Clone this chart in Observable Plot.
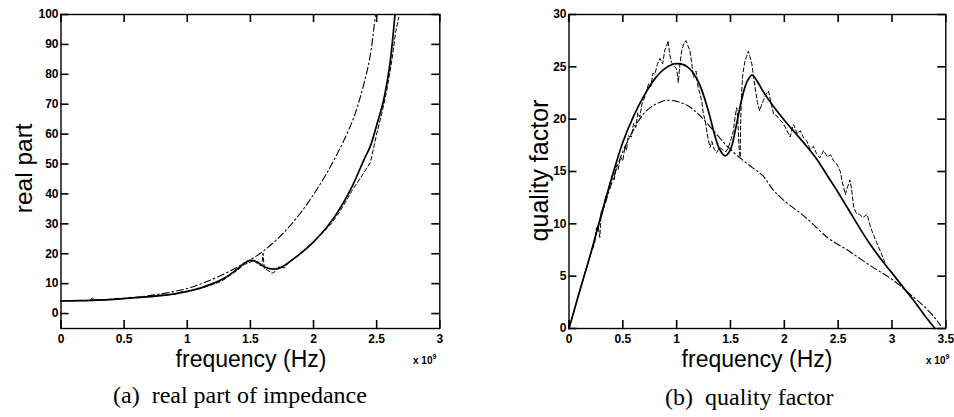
<!DOCTYPE html>
<html><head><meta charset="utf-8">
<script src="https://cdn.jsdelivr.net/npm/d3@7"></script>
<script src="https://cdn.jsdelivr.net/npm/@observablehq/plot@0.6"></script>
<style>
html,body{margin:0;padding:0;background:#fff;}
#root{position:relative;width:954px;height:417px;overflow:hidden;background:#fff;}
#root > svg{position:absolute;}
.lbl{position:absolute;line-height:1;white-space:pre;color:#000;}
</style></head><body><div id="root"></div>
<script>
// ---------- (a) real part of impedance ----------
const realTicksX = [0, 0.5, 1, 1.5, 2, 2.5, 3];
const realTicksY = [0, 10, 20, 30, 40, 50, 60, 70, 80, 90, 100];
// solid: fitted model
const realFitF = [0,0.25,0.5,0.75,0.9,1.0,1.1,1.2,1.3,1.4,1.45,1.5,1.55,1.6,1.65,1.7,1.75,1.8,1.9,2.0,2.1,2.2,2.3,2.4,2.45,2.5,2.55,2.6,2.625,2.645];
const realFit  = [4.2,4.4,5.0,5.8,6.6,7.4,8.5,10.0,12.0,15.0,16.8,17.8,17.3,15.9,15.0,14.9,15.6,17.0,20.2,24.0,28.6,34.5,42.0,51.5,56.0,63.0,70.5,82.0,91.0,100];
// dash-dot: alternative model
const realAltF = [0,0.25,0.5,0.75,1.0,1.15,1.3,1.4,1.5,1.6,1.7,1.8,1.9,2.0,2.1,2.2,2.3,2.35,2.4,2.45,2.49];
const realAlt  = [4.3,4.5,5.1,6.3,8.4,10.6,13.4,15.6,18.0,20.8,24.4,28.7,33.8,39.8,46.6,54.4,63.5,69.5,77.0,86.5,100];
// dashed: measurement
const realMeasF = [0.23,0.25,0.27,0.3,0.35,0.4,0.45,0.5,0.55,0.6,0.65,0.7,0.75,0.8,0.85,0.9,0.95,1.0,1.05,1.1,1.15,1.2,1.25,1.3,1.35,1.4,1.45,1.5,1.53,1.56,1.59,1.6,1.61,1.64,1.67,1.7,1.73,1.77,1.8,1.85,1.9,1.95,2.0,2.05,2.1,2.15,2.2,2.25,2.3,2.35,2.4,2.45,2.5,2.54,2.58,2.62,2.65,2.675];
const realMeas  = [4.6,5.2,4.5,4.6,4.5,4.8,5.1,5.0,5.4,5.3,5.6,5.8,5.9,6.2,6.3,6.4,7.2,7.3,8.0,8.3,9.0,9.7,10.4,11.6,13.1,14.6,16.4,17.2,17.8,16.4,16.0,20.2,15.0,14.4,13.4,14.2,15.8,15.2,17.0,18.4,20.0,21.8,24.0,26.0,28.2,30.6,33.6,37.0,40.8,44.0,47.2,50.5,60.0,66.8,74.6,84.6,94.0,99.0];

// ---------- (b) quality factor ----------
const qTicksX = [0, 0.5, 1, 1.5, 2, 2.5, 3, 3.5];
const qTicksY = [0, 5, 10, 15, 20, 25, 30];
const qFitF = [0,0.1,0.2,0.3,0.4,0.5,0.6,0.7,0.8,0.9,1.0,1.1,1.2,1.3,1.35,1.4,1.45,1.5,1.55,1.6,1.65,1.7,1.75,1.8,1.9,2.0,2.1,2.2,2.3,2.4,2.5,2.6,2.7,2.8,2.9,3.0,3.1,3.2,3.3,3.4];
const qFit  = [0,3.6,7.1,10.9,14.5,17.8,20.3,22.3,23.9,24.9,25.3,25.0,23.6,20.6,18.6,17.1,16.5,17.1,19.2,21.7,23.5,24.2,23.6,22.7,21.2,19.9,18.7,17.5,16.2,14.6,13.0,11.3,9.6,8.0,6.6,5.3,4.0,2.7,1.3,0];
const qAltF = [0,0.1,0.2,0.3,0.4,0.5,0.6,0.7,0.8,0.9,1.0,1.1,1.2,1.3,1.4,1.5,1.6,1.7,1.8,1.9,2.0,2.2,2.4,2.6,2.8,3.0,3.2,3.3,3.4,3.45];
const qAlt  = [0,3.6,7.1,10.7,14.0,16.9,19.0,20.6,21.4,21.8,21.7,21.3,20.5,19.4,18.2,17.1,16.2,15.4,14.6,13.2,12.2,10.6,8.7,7.4,6.0,4.7,3.0,2.1,1.0,0.3];
const qMeasF = [0.22,0.239,0.255,0.27,0.286,0.3,0.32,0.34,0.36,0.379,0.4,0.42,0.44,0.456,0.48,0.5,0.52,0.534,0.55,0.58,0.6,0.62,0.64,0.658,0.68,0.7,0.72,0.74,0.76,0.78,0.798,0.82,0.845,0.87,0.89,0.907,0.92,0.935,0.953,0.98,1.0,1.015,1.03,1.046,1.065,1.087,1.105,1.124,1.14,1.155,1.18,1.2,1.217,1.235,1.248,1.265,1.279,1.295,1.31,1.326,1.35,1.372,1.4,1.434,1.46,1.48,1.5,1.527,1.545,1.558,1.57,1.58,1.59,1.595,1.605,1.614,1.625,1.636,1.65,1.667,1.68,1.698,1.71,1.729,1.75,1.77,1.79,1.806,1.83,1.853,1.875,1.9,1.93,1.962,1.99,2.02,2.055,2.07,2.086,2.12,2.148,2.18,2.21,2.24,2.27,2.3,2.33,2.365,2.4,2.43,2.458,2.48,2.505,2.52,2.536,2.567,2.59,2.61,2.625,2.644,2.67,2.7,2.73,2.769,2.8,2.83,2.862,2.9,2.93,2.955,2.98,3.0,3.02];
const qMeas  = [7.6,8.2,9.6,9.8,8.7,11.2,11.4,12.6,12.9,13.8,14.6,14.2,15.6,15.2,16.4,16.0,17.4,17.0,18.4,18.3,19.6,19.2,20.6,20.2,21.6,22.0,22.7,23.4,23.1,24.4,24.3,25.2,25.8,25.3,26.6,27.0,27.5,26.2,25.4,25.0,24.8,23.5,25.2,26.5,27.2,27.5,27.0,26.5,25.4,24.0,24.6,23.0,22.4,21.6,20.5,19.9,18.9,18.0,17.3,17.9,17.1,16.8,17.3,17.0,16.9,17.3,17.9,18.9,20.4,21.1,19.6,17.2,16.35,20.0,22.8,24.3,25.0,25.6,26.0,26.5,26.0,25.3,24.4,23.0,21.6,20.8,21.4,21.8,22.4,22.7,21.6,20.5,20.3,19.9,19.6,19.0,18.3,19.0,19.5,18.6,18.9,18.2,17.9,17.1,17.4,16.7,16.3,17.0,16.4,16.6,16.0,15.8,15.4,15.0,14.1,12.8,13.6,14.2,13.3,11.6,11.0,10.9,10.6,10.9,9.7,8.9,8.1,7.2,6.4,5.8,5.6,5.35,5.2];

const zip = (xs, ys) => xs.map((x, i) => ({x, y: ys[i]}));
const baseStyle = {fontFamily: "'Liberation Sans', Arial, sans-serif", fontSize: "12px", fontWeight: "bold", background: "transparent", overflow: "visible", color: "black"};

function panel({width, height, mL, mR, mT, mB, xDomain, yDomain, xTicks, yTicks, fit, alt, meas}) {
  const pw = width - mL - mR, ph = height - mT - mB, tickPx = 8;
  const [x0, x1] = xDomain, [y0, y1] = yDomain;
  const dx = tickPx / pw * (x1 - x0), dy = tickPx / ph * (y1 - y0);   // tick length in data units
  const tk = {stroke: "black", strokeWidth: 1.6};
  return Plot.plot({
    width, height, marginLeft: mL, marginRight: mR, marginTop: mT, marginBottom: mB,
    style: baseStyle,
    x: {domain: xDomain, label: null},
    y: {domain: yDomain, label: null},
    marks: [
      Plot.line(alt, {x: "x", y: "y", stroke: "black", strokeWidth: 1.1, strokeDasharray: "7,3,1.5,3", curve: "catmull-rom"}),
      Plot.line(meas, {x: "x", y: "y", stroke: "black", strokeWidth: 1, strokeDasharray: "4,2.5"}),
      Plot.line(fit, {x: "x", y: "y", stroke: "black", strokeWidth: 1.7, curve: "catmull-rom"}),
      // inward ticks on all four sides
      Plot.ruleY(yTicks, {y: d => d, x1: () => x0, x2: () => x0 + dx, ...tk}),
      Plot.ruleY(yTicks, {y: d => d, x1: () => x1 - dx, x2: () => x1, ...tk}),
      Plot.ruleX(xTicks, {x: d => d, y1: () => y0, y2: () => y0 + dy, ...tk}),
      Plot.ruleX(xTicks, {x: d => d, y1: () => y1 - dy, y2: () => y1, ...tk}),
      Plot.frame({stroke: "black", strokeWidth: 1.4}),
      Plot.axisX(xTicks, {tickSize: 0, tickPadding: 6, tickFormat: d => String(d), label: null}),
      Plot.axisY(yTicks, {tickSize: 0, tickPadding: 2.5, tickFormat: d => String(d), label: null})
    ]
  });
}

const root = document.getElementById("root");

const right = panel({width: 474, height: 345, mL: 88.5, mR: 8.7, mT: 14, mB: 17,
  xDomain: [0, 3.5], yDomain: [0, 30], xTicks: qTicksX, yTicks: qTicksY,
  fit: zip(qFitF, qFit), alt: zip(qAltF, qAlt), meas: zip(qMeasF, qMeas)});
right.style.left = "480px"; right.style.top = "0px";
root.appendChild(right);

const left = panel({width: 460, height: 345, mL: 60.5, mR: 20.7, mT: 14, mB: 17,
  xDomain: [0, 3], yDomain: [-5, 100], xTicks: realTicksX, yTicks: realTicksY,
  fit: zip(realFitF, realFit), alt: zip(realAltF, realAlt), meas: zip(realMeasF, realMeas)});
left.style.left = "0px"; left.style.top = "0px";
root.appendChild(left);

// ---------- labels & captions (HTML text) ----------
const SANS = "'Liberation Sans', Arial, sans-serif", SERIF = "'Liberation Serif', 'Times New Roman', serif";
function addLabel(text, {x, y, size, family, anchor = "start", rotate = false, weight = "normal"}) {
  const d = document.createElement("div");
  d.className = "lbl";
  d.textContent = text;
  d.style.fontFamily = family; d.style.fontSize = size + "px"; d.style.fontWeight = weight;
  const asc = family === SERIF ? 0.8375 : 0.8465;   // baseline offset at line-height 1
  if (rotate) {
    const cx = x - asc * size + size / 2;
    d.style.width = "300px"; d.style.height = size + "px"; d.style.textAlign = "center";
    d.style.left = (cx - 150) + "px"; d.style.top = (y - size / 2) + "px";
    d.style.transform = "rotate(-90deg)";
  } else if (anchor === "middle") {
    d.style.width = "400px"; d.style.textAlign = "center";
    d.style.left = (x - 200) + "px"; d.style.top = (y - asc * size) + "px";
  } else {
    d.style.left = x + "px"; d.style.top = (y - asc * size) + "px";
  }
  root.appendChild(d);
  return d;
}
addLabel("real part", {x: 32.5, y: 168, size: 24.5, family: SANS, rotate: true});
addLabel("quality factor", {x: 548, y: 170, size: 25, family: SANS, rotate: true});
addLabel("frequency (Hz)", {x: 251, y: 367, size: 23, family: SANS, anchor: "middle"});
addLabel("frequency (Hz)", {x: 757, y: 367, size: 23, family: SANS, anchor: "middle"});
addLabel("(a)  real part of impedance", {x: 113, y: 403, size: 24, family: SERIF});
addLabel("(b)  quality factor", {x: 665, y: 405, size: 24, family: SERIF});
for (const x of [413, 926]) {
  const d = addLabel("x 10", {x, y: 364, size: 10, family: SANS, weight: "bold"});
  const s = document.createElement("span");
  s.textContent = "9"; s.style.fontSize = "7px"; s.style.position = "relative"; s.style.top = "-5px";
  d.appendChild(s);
}
</script></body></html>
